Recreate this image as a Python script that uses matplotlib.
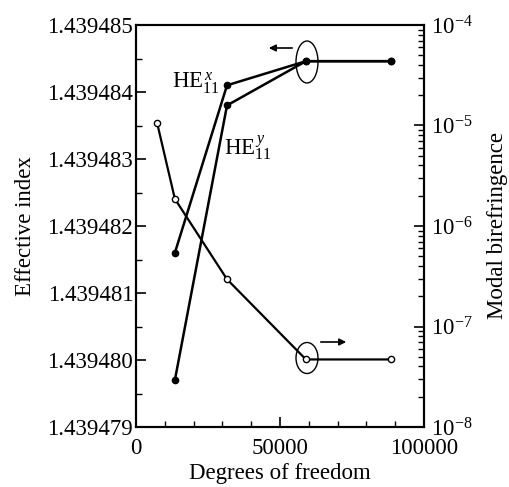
import matplotlib
matplotlib.use("Agg")
import matplotlib.pyplot as plt
from matplotlib.patches import Ellipse
from matplotlib.ticker import MultipleLocator, LogLocator, NullFormatter
import numpy as np

plt.rcParams['font.family'] = ['Liberation Serif', 'DejaVu Serif']
plt.rcParams['mathtext.fontset'] = 'custom'
plt.rcParams['mathtext.rm'] = 'Liberation Serif'
plt.rcParams['mathtext.it'] = 'Liberation Serif:italic'

# data
dof_he = [13500, 31600, 59000, 88500]
n_hex = [1.4394816, 1.4394841, 1.43948446, 1.43948446]
n_hey = [1.4394797, 1.4394838, 1.43948446, 1.43948446]
dof_bi = [7300, 13500, 31600, 59000, 88500]
biref = [1.07e-5, 1.86e-6, 2.95e-7, 4.7e-8, 4.7e-8]

fs = 16.5
fig = plt.figure(figsize=(5.10, 4.87), dpi=100)
L, R, T, B = 136.0, 424.0, 25.0, 427.0
ax = fig.add_axes([L/510, 1-B/487, (R-L)/510, (B-T)/487])
ax2 = ax.twinx()

ax.plot(dof_he, n_hex, '-o', color='black', lw=1.8, ms=4.5, mfc='black', mec='black')
ax.plot(dof_he, n_hey, '-o', color='black', lw=1.8, ms=4.5, mfc='black', mec='black')
ax2.plot(dof_bi, biref, '-o', color='black', lw=1.6, ms=4.5, mfc='white', mec='black', mew=1.0)

ax.set_xlim(0, 100000)
ax.set_ylim(1.439479, 1.439485)
ax2.set_yscale('log')
ax2.set_ylim(1e-8, 1e-4)

ax.set_xticks([0, 50000, 100000])
ax.set_xticklabels(['0', '50000', '100000'], fontsize=fs)
ax.xaxis.set_minor_locator(MultipleLocator(10000))
yt = [1.439479, 1.439480, 1.439481, 1.439482, 1.439483, 1.439484, 1.439485]
ax.set_yticks(yt)
ax.set_yticklabels(['%.6f' % v for v in yt], fontsize=fs)
ax.yaxis.set_minor_locator(MultipleLocator(0.0000005))

ax2.set_yticks([1e-8, 1e-7, 1e-6, 1e-5, 1e-4])
ax2.set_yticklabels([r'$10^{-8}$', r'$10^{-7}$', r'$10^{-6}$', r'$10^{-5}$', r'$10^{-4}$'], fontsize=fs)
ax2.yaxis.set_minor_locator(LogLocator(base=10, subs=np.arange(2, 10)))
ax2.yaxis.set_minor_formatter(NullFormatter())

ax.tick_params(axis='both', which='major', direction='in', length=7, width=1.2, pad=2)
ax.tick_params(axis='both', which='minor', direction='in', length=4, width=1.0)
ax.tick_params(axis='x', which='major', pad=8)
ax2.tick_params(axis='y', which='major', direction='in', length=7, width=1.2, pad=5)
ax2.tick_params(axis='y', which='minor', direction='in', length=4, width=1.0)

for a in (ax, ax2):
    for s in a.spines.values():
        s.set_linewidth(1.5)

ax.set_xlabel('Degrees of freedom', fontsize=fs, labelpad=3)
ax.set_ylabel('Effective index', fontsize=fs, labelpad=8)
ax2.set_ylabel('Modal birefringence', fontsize=fs, labelpad=10)

W, H = R - L, B - T
def af(px, py):
    return ((px - L) / W, 1 - (py - T) / H)

ax.text(*af(172, 83), r'HE$_{11}^{\,x}$', transform=ax.transAxes, fontsize=fs, ha='left', va='center')
ax.text(*af(224, 148), r'HE$_{11}^{\,y}$', transform=ax.transAxes, fontsize=fs, ha='left', va='center')

# ellipses and arrows (annotations in axes fraction)
ax.add_patch(Ellipse(af(307, 62), 22/W, 42/H, transform=ax.transAxes,
                     fill=False, ec='black', lw=1.0))
ax.add_patch(Ellipse(af(307, 358), 22/W, 31/H, transform=ax.transAxes,
                     fill=False, ec='black', lw=1.0))
ax.annotate('', xy=af(266, 48), xytext=af(295, 48),
            xycoords='axes fraction', arrowprops=dict(arrowstyle='-|>', color='black', lw=1.2, mutation_scale=10))
ax.annotate('', xy=af(349, 342), xytext=af(318, 342),
            xycoords='axes fraction', arrowprops=dict(arrowstyle='-|>', color='black', lw=1.2, mutation_scale=10))

fig.savefig('out.png', dpi=100)
